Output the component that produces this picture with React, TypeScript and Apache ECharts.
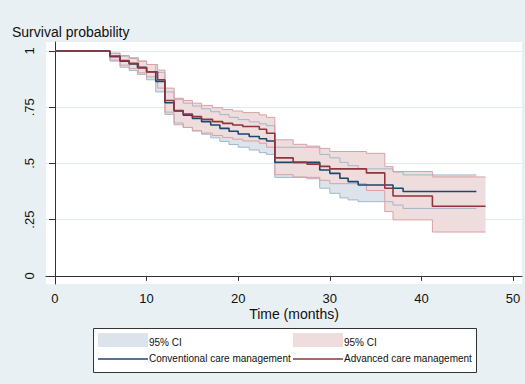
import React, { useEffect, useRef } from "react";
import * as echarts from "echarts";

// ---- axis ticks ----
const xTicks = [0, 10, 20, 30, 40, 50];
const yTicks = [0, 0.25, 0.5, 0.75, 1];
const yTickLabels = ["0", ".25", ".5", ".75", "1"];
const gridLines = [0.25, 0.5, 0.75, 1];

// ---- Conventional care management (Kaplan-Meier estimate + 95% CI) ----
const convTime = [0, 6, 7.1, 8.1, 9, 10, 11, 12, 13, 14, 15, 16, 17, 18, 19, 20, 21.2, 22.3, 23.1, 24, 28.9, 30, 31.1, 32, 33.1, 36.9, 38, 46];
const convSurv = [1, 0.975, 0.955, 0.942, 0.927, 0.908, 0.865, 0.77, 0.733, 0.715, 0.7, 0.686, 0.671, 0.656, 0.643, 0.631, 0.62, 0.61, 0.6, 0.505, 0.471, 0.456, 0.434, 0.419, 0.404, 0.39, 0.375, 0.375];
const convUpper = [1, 0.99, 0.977, 0.967, 0.955, 0.94, 0.905, 0.818, 0.785, 0.768, 0.755, 0.743, 0.73, 0.717, 0.705, 0.695, 0.685, 0.676, 0.668, 0.572, 0.54, 0.525, 0.505, 0.49, 0.476, 0.462, 0.449, 0.449];
const convLower = [1, 0.955, 0.928, 0.913, 0.896, 0.872, 0.818, 0.718, 0.68, 0.66, 0.645, 0.63, 0.614, 0.598, 0.584, 0.572, 0.56, 0.548, 0.54, 0.438, 0.39, 0.367, 0.347, 0.338, 0.33, 0.315, 0.3, 0.3];

// ---- Advanced care management (Kaplan-Meier estimate + 95% CI) ----
const advTime = [0, 6, 7.1, 8.1, 9.1, 10, 11.2, 12, 13, 14, 15, 16, 17.2, 18.3, 19.4, 20.5, 22.3, 23.1, 24, 26, 27.5, 28.9, 30, 34, 36, 36.9, 41.2, 47];
const advSurv = [1, 0.978, 0.957, 0.945, 0.925, 0.907, 0.872, 0.78, 0.735, 0.72, 0.708, 0.696, 0.686, 0.678, 0.671, 0.664, 0.652, 0.634, 0.525, 0.505, 0.497, 0.487, 0.476, 0.458, 0.39, 0.355, 0.31, 0.31];
const advUpper = [1, 0.99, 0.98, 0.97, 0.955, 0.94, 0.915, 0.835, 0.79, 0.78, 0.768, 0.758, 0.748, 0.74, 0.733, 0.726, 0.716, 0.705, 0.605, 0.585, 0.577, 0.567, 0.553, 0.545, 0.486, 0.464, 0.44, 0.44];
const advLower = [1, 0.96, 0.937, 0.922, 0.903, 0.885, 0.835, 0.728, 0.672, 0.66, 0.645, 0.635, 0.624, 0.615, 0.608, 0.6, 0.59, 0.572, 0.45, 0.44, 0.432, 0.425, 0.41, 0.38, 0.286, 0.249, 0.195, 0.195];

const legendLabels = ["95% CI", "95% CI", "Conventional care management", "Advanced care management"];

const BLUE = "#1a476f";
const RED = "#90353b";
const BLUE_FILL = "#dce3ea";
const BLUE_EDGE = "#a3b7c7";
const RED_FILL = "#efdcdd";
const RED_EDGE = "#d6a2a5";
const FONT = "Liberation Sans, Arial, Helvetica, sans-serif";

const pairs = (t: number[], v: number[]) => t.map((x, i) => [x, v[i]]);
const rows = (t: number[], lo: number[], hi: number[]) => t.map((x, i) => [x, lo[i], hi[i]]);

// step-shaped confidence band drawn as one polygon through the axis scales
const bandSeries = (name: string, t: number[], lo: number[], hi: number[], fill: string) => ({
  name,
  type: "custom",
  silent: true,
  data: rows(t, lo, hi),
  encode: { x: 0, y: [1, 2] },
  renderItem: (params: any, api: any) => {
    if (params.dataIndexInside !== 0) return null;
    const pts: number[][] = [];
    const n = t.length;
    for (let i = 0; i < n; i++) {
      pts.push(api.coord([t[i], hi[i]]));
      if (i < n - 1) pts.push(api.coord([t[i + 1], hi[i]]));
    }
    for (let i = n - 1; i >= 0; i--) {
      if (i < n - 1) pts.push(api.coord([t[i + 1], lo[i]]));
      pts.push(api.coord([t[i], lo[i]]));
    }
    return { type: "polygon", shape: { points: pts }, style: { fill, stroke: "none" } };
  },
});

const edgeSeries = (name: string, t: number[], v: number[], color: string, extra: any = {}) => ({
  name,
  type: "line",
  step: "end",
  symbol: "none",
  silent: true,
  data: pairs(t, v),
  lineStyle: { color, width: 1 },
  ...extra,
});

export default function App() {
  const ref = useRef<HTMLDivElement>(null);

  useEffect(() => {
    if (!ref.current) return;
    const chart = echarts.init(ref.current, undefined, { renderer: "svg" });

    const option: any = {
      animation: false,
      backgroundColor: "#e9f0f3",
      textStyle: { fontFamily: FONT },
      grid: {
        left: 46,
        right: 3,
        top: 42,
        bottom: 100,
        show: true,
        backgroundColor: "#ffffff",
        borderWidth: 0,
        containLabel: false,
        outerBoundsMode: "none",
      },
      xAxis: {
        type: "value",
        min: -0.98,
        max: 50.98,
        axisLine: { show: true, lineStyle: { color: "#333333", width: 1 } },
        axisTick: { show: true, customValues: xTicks, length: 5, lineStyle: { color: "#333333" } },
        axisLabel: { customValues: xTicks, color: "#111111", fontSize: 13, margin: 8, fontFamily: FONT },
        splitLine: { show: false },
      },
      yAxis: {
        type: "value",
        min: -0.036,
        max: 1.04,
        axisLine: { show: true, lineStyle: { color: "#333333", width: 1 } },
        axisTick: { show: true, customValues: yTicks, length: 6, lineStyle: { color: "#333333" } },
        axisLabel: {
          customValues: yTicks,
          rotate: 90,
          color: "#111111",
          fontSize: 13,
          margin: 10,
          fontFamily: FONT,
          formatter: (v: number) => {
            const i = yTicks.findIndex((y) => Math.abs(y - v) < 1e-9);
            return i >= 0 ? yTickLabels[i] : "";
          },
        },
        splitLine: { show: false },
      },
      series: [
        bandSeries("convCI", convTime, convLower, convUpper, BLUE_FILL),
        edgeSeries("convLower", convTime, convLower, BLUE_EDGE, {
          markLine: {
            silent: true,
            symbol: ["none", "none"],
            label: { show: false },
            lineStyle: { color: "#e2eaee", width: 1, type: "solid" },
            data: gridLines.map((v) => ({ yAxis: v })),
            z: 0,
          },
        }),
        edgeSeries("convUpper", convTime, convUpper, BLUE_EDGE),
        bandSeries("advCI", advTime, advLower, advUpper, RED_FILL),
        edgeSeries("advLower", advTime, advLower, RED_EDGE),
        edgeSeries("advUpper", advTime, advUpper, RED_EDGE),
        {
          name: legendLabels[2],
          type: "line",
          step: "end",
          symbol: "none",
          data: pairs(convTime, convSurv),
          lineStyle: { color: BLUE, width: 1.6 },
        },
        {
          name: legendLabels[3],
          type: "line",
          step: "end",
          symbol: "none",
          data: pairs(advTime, advSurv),
          lineStyle: { color: RED, width: 1.6 },
        },
      ],
      graphic: [
        {
          type: "text",
          left: 12,
          top: 25,
          style: { text: "Survival probability", font: `14px ${FONT}`, fill: "#111111" },
        },
        {
          type: "text",
          x: 294,
          y: 314,
          style: { text: "Time (months)", font: `14px ${FONT}`, fill: "#111111", align: "center", verticalAlign: "middle" },
        },
        {
          type: "group",
          children: [
            { type: "rect", shape: { x: 93.5, y: 328.5, width: 383, height: 44 }, style: { fill: "#ffffff", stroke: "#333333", lineWidth: 1 } },
            { type: "rect", shape: { x: 98, y: 333, width: 50, height: 14 }, style: { fill: BLUE_FILL } },
            { type: "text", x: 149, y: 342, style: { text: legendLabels[0], font: `10px ${FONT}`, fill: "#111111", verticalAlign: "middle" } },
            { type: "rect", shape: { x: 293, y: 333, width: 50, height: 14 }, style: { fill: RED_FILL } },
            { type: "text", x: 344, y: 342, style: { text: legendLabels[1], font: `10px ${FONT}`, fill: "#111111", verticalAlign: "middle" } },
            { type: "line", shape: { x1: 98, y1: 359, x2: 148, y2: 359 }, style: { stroke: BLUE, lineWidth: 1.6 } },
            { type: "text", x: 149, y: 358, style: { text: legendLabels[2], font: `10px ${FONT}`, fill: "#111111", verticalAlign: "middle" } },
            { type: "line", shape: { x1: 293, y1: 359, x2: 343, y2: 359 }, style: { stroke: RED, lineWidth: 1.6 } },
            { type: "text", x: 344, y: 358, style: { text: legendLabels[3], font: `10px ${FONT}`, fill: "#111111", verticalAlign: "middle" } },
          ],
        },
      ],
    };

    chart.setOption(option);
    return () => chart.dispose();
  }, []);

  return (
    <div
      ref={ref}
      style={{ position: "fixed", left: 0, top: 0, width: 525, height: 384 }}
    />
  );
}
